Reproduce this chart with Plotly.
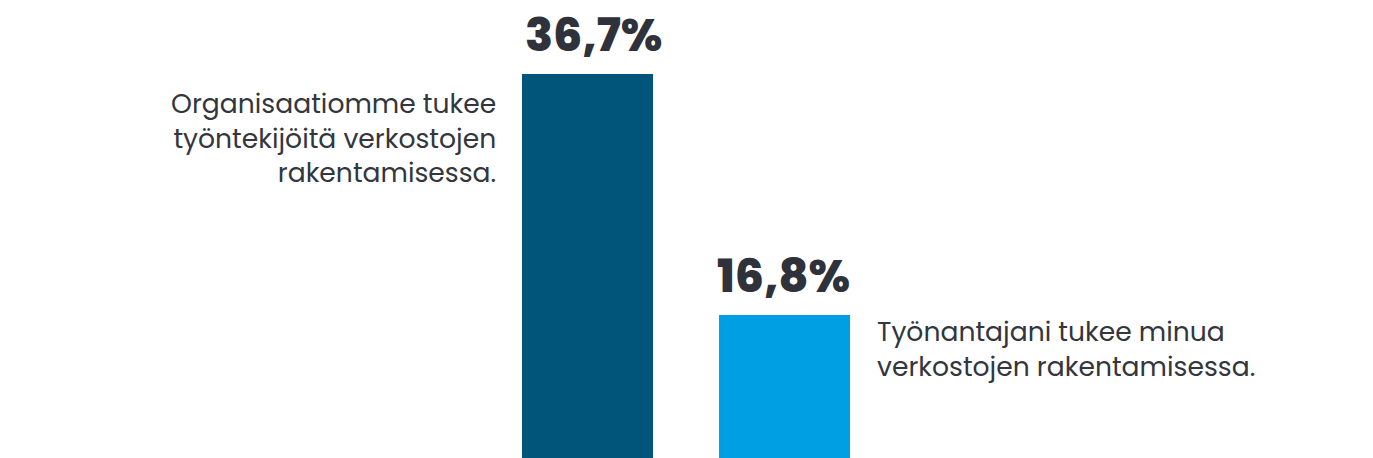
import plotly.graph_objects as go

# Survey results: share of respondents agreeing with each statement
categories = [
    "Organisaatiomme tukee<br>työntekijöitä verkostojen<br>rakentamisessa.",
    "Työnantajani tukee minua<br>verkostojen rakentamisessa.",
]
values = [36.7, 16.8]
colors = ["#02557A", "#009FE3"]
positions = [0, 1]

text_color = "#33363D"
body_font = "Poppins, Inter, sans-serif"


def fmt_pct(v):
    return f"{v:.1f}".replace(".", ",") + "%"


fig = go.Figure(
    go.Bar(
        x=positions,
        y=values,
        width=0.665,
        marker=dict(color=colors, line=dict(width=0)),
        hoverinfo="skip",
    )
)

# value labels above the bars
label_shifts = [6, -1]
for x, v, dx in zip(positions, values, label_shifts):
    fig.add_annotation(
        x=x, y=v, xref="x", yref="y",
        text=fmt_pct(v), showarrow=False,
        xanchor="center", yanchor="bottom", yshift=5, xshift=dx,
        font=dict(family=body_font, size=46, color="#2F323A", weight=800),
    )

# statement texts: first to the left of its bar, second to the right
fig.add_annotation(
    x=positions[0], y=values[0], xref="x", yref="y",
    text=categories[0], showarrow=False, align="right",
    xanchor="right", yanchor="top", xshift=-90, yshift=-9,
    font=dict(family=body_font, size=26.6, color=text_color),
)
fig.add_annotation(
    x=positions[1], y=values[1], xref="x", yref="y",
    text=categories[1], showarrow=False, align="left",
    xanchor="left", yanchor="top", xshift=90, yshift=4,
    font=dict(family=body_font, size=26.6, color=text_color),
)

fig.update_layout(
    width=1373, height=458,
    margin=dict(l=0, r=0, t=0, b=0),
    paper_bgcolor="white", plot_bgcolor="white",
    showlegend=False,
    xaxis=dict(range=[-2.982, 3.987], visible=False, fixedrange=True),
    yaxis=dict(range=[5, 42.8], visible=False, fixedrange=True),
)

fig.write_html("out.html")
